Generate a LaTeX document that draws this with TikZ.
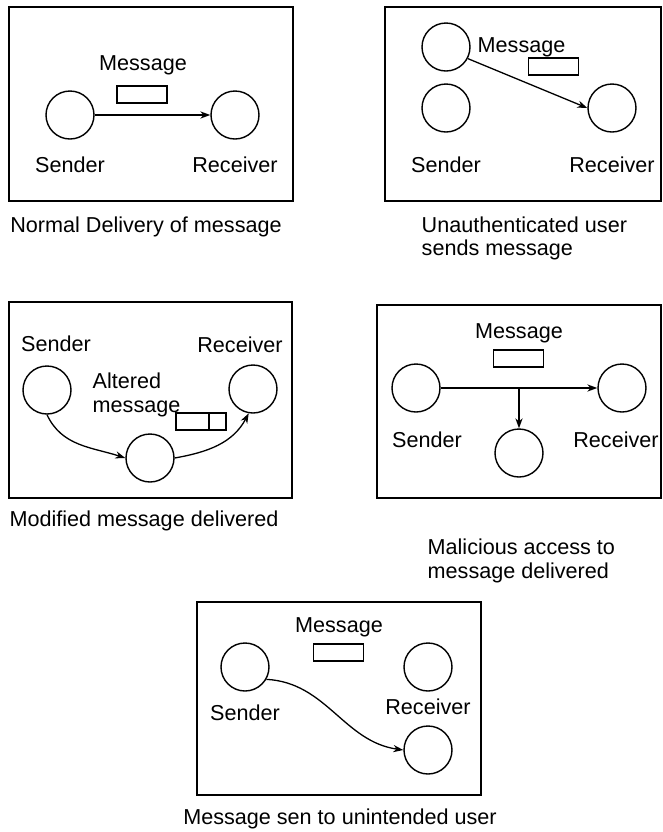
\documentclass[tikz,border=0pt]{standalone}
\usepackage{fontspec}
\setmainfont{Liberation Sans}
\usetikzlibrary{arrows.meta,positioning}

\begin{document}
\begin{tikzpicture}[x=0.5pt,y=0.5pt,line width=0.7pt,
		font=\fontsize{10.8}{11.6}\selectfont,
		>={Stealth[length=5pt,width=3.6pt]},
		party/.style={circle,draw,minimum size=24pt,inner sep=0pt},
		msgbox/.style={draw,minimum width=25pt,minimum height=8.5pt,inner sep=0pt},
		flow/.style={->,line width=0.65pt},
		caption/.style={align=left,anchor=west,inner sep=0pt}]
				\useasboundingbox (0,0) rectangle (663,-832);
				% normal delivery
				\draw (9,-7) rectangle (293,-201);
				\node[party] (s1) at (70,-115) {};
				\node[party] (r1) at (235,-115) {};
				\node[msgbox] (m1) at (142,-94.5) {};
				\node (t1) at (143,-65) {Message};
				\node (ls1) at (70,-165) {Sender};
				\node (lr1) at (235,-165) {Receiver};
				\draw[flow] (s1) -- (r1);
				\node (c1) at (146,-227) {Normal Delivery of message};
				% unauthenticated user
				\draw (385,-7) rectangle (661,-201);
				\node[party] (u2) at (446,-47) {};
				\node[party] (s2) at (446,-108) {};
				\node[party] (r2) at (612,-108) {};
				\node[msgbox] (m2) at (553.5,-66.5) {};
				\node[anchor=west,inner sep=0pt] (t2) at (477,-47) {Message};
				\node (ls2) at (446,-165) {Sender};
				\node (lr2) at (612,-165) {Receiver};
				\draw[flow] (u2.-28) -- (r2.west);
				\node[caption] (c2) at (421,-238.5) {Unauthenticated user\\sends message};
				% modified message
				\draw (9,-302) rectangle (292,-498);
				\node[party] (s3) at (47,-390) {};
				\node[party] (x3) at (150,-458) {};
				\node[party] (r3) at (253,-389) {};
				\node[msgbox,minimum width=16.5pt] (m3) at (192.5,-421.5) {};
				\node[msgbox,minimum width=8.5pt] (n3) at (217.5,-421.5) {};
				\node (ls3) at (56,-344) {Sender};
				\node (lr3) at (240,-345) {Receiver};
				\node[caption] (t3) at (92,-395) {Altered\\message};
				\draw[flow] (s3.south) to[out=-65,in=162] (x3.west);
				\draw[flow] (x3.east) to[out=10,in=-118] (r3.-100);
				\node (c3) at (144,-521) {Modified message delivered};
				% malicious access
				\draw (377,-305) rectangle (661,-498);
				\node[party] (s4) at (416,-388) {};
				\node[party] (r4) at (622,-388) {};
				\node[party] (x4) at (519,-453) {};
				\node[msgbox] (m4) at (518.5,-358.5) {};
				\node (t4) at (519,-333) {Message};
				\node (ls4) at (427,-440) {Sender};
				\node (lr4) at (616,-440) {Receiver};
				\coordinate (b4) at (x4 |- s4);
				\draw[flow] (s4) -- (r4);
				\draw[flow] (b4) -- (x4);
				\node[caption] (c4) at (427,-561) {Malicious access to\\message delivered};
				% unintended user
				\draw (197,-602) rectangle (481,-795);
				\node[party] (s5) at (245,-667) {};
				\node[party] (r5) at (428,-667) {};
				\node[party] (x5) at (428,-750) {};
				\node[msgbox] (m5) at (338.5,-652.5) {};
				\node (t5) at (339,-627) {Message};
				\node (ls5) at (245,-713) {Sender};
				\node (lr5) at (428,-707) {Receiver};
				\draw[flow] (s5.-30) to[out=-3,in=172] (x5.west);
				\node (c5) at (340,-819) {Message sen to unintended user};
			\end{tikzpicture}
\end{document}
